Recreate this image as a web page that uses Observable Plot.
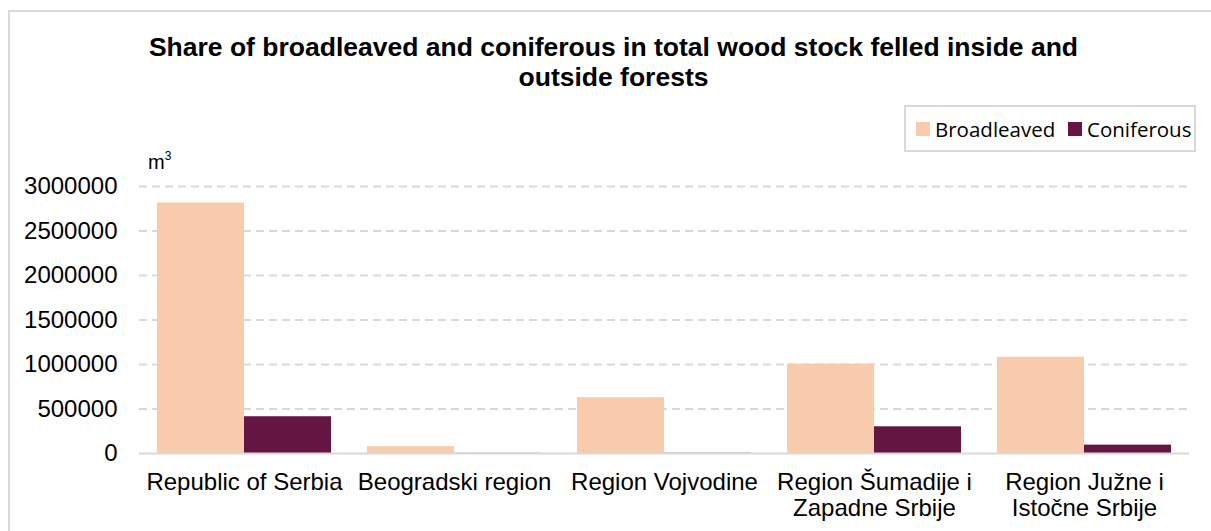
<!DOCTYPE html>
<html>
<head>
<meta charset="utf-8">
<script src="https://cdn.jsdelivr.net/npm/d3@7"></script>
<script src="https://cdn.jsdelivr.net/npm/@observablehq/plot@0.6"></script>
<style>
  html, body { margin: 0; padding: 0; background: #fff; }
  body { width: 1211px; height: 531px; overflow: hidden; position: relative; font-family: "Liberation Sans", Arial, sans-serif; }
  #frame { position: absolute; left: 8px; top: 10px; width: 1220px; height: 560px; border: 2px solid #d9d9d9; box-sizing: border-box; }
  #title { position: absolute; left: 8px; width: 1211px; top: 32px; text-align: center; font-weight: bold; font-size: 26.5px; line-height: 30px; color: #000; }
  #unit { position: absolute; left: 148px; top: 150px; font-size: 20px; color: #000; }
  #unit sup { font-size: 12px; position: relative; top: -1px; }
  #legend { position: absolute; left: 904px; top: 105px; width: 292px; height: 47px; border: 2px solid #d9d9d9; box-sizing: border-box; font-family: "Open Sans", "Noto Sans", sans-serif; font-size: 20.5px; color: #000; }
  .li { position: absolute; top: 8px; display: flex; align-items: center; }
  .sw { width: 14px; height: 14px; display: inline-block; margin-right: 5px; }
  #chart { position: absolute; left: 0; top: 0; }
</style>
</head>
<body>
<div id="frame"></div>
<div id="chart"></div>
<div id="title">Share of broadleaved and coniferous in total wood stock felled inside and<br>outside forests</div>
<div id="unit">m<sup>3</sup></div>
<div id="legend"></div>
<script>
const categories = ["Republic of Serbia", "Beogradski region", "Region Vojvodine", "Region Šumadije i Zapadne Srbije", "Region Južne i Istočne Srbije"];
const tickLabels = ["Republic of Serbia", "Beogradski region", "Region Vojvodine", "Region Šumadije i\nZapadne Srbije", "Region Južne i\nIstočne Srbije"];
const series = ["Broadleaved", "Coniferous"];
const colors = ["#F8CBAD", "#641541"];
const broadleaved = [2815000, 76000, 628000, 1005000, 1082000];
const coniferous = [413000, 2000, 3000, 300000, 94000];
const yTicks = [0, 500000, 1000000, 1500000, 2000000, 2500000, 3000000];

const rowsB = categories.map((c, i) => ({category: c, series: series[0], value: broadleaved[i]}));
const rowsC = categories.map((c, i) => ({category: c, series: series[1], value: coniferous[i]}));
const labelOf = new Map(categories.map((c, i) => [c, tickLabels[i]]));

const chart = Plot.plot({
  width: 1211,
  height: 531,
  marginLeft: 139,
  marginRight: 22,
  marginTop: 186,
  marginBottom: 78,
  style: {fontFamily: "'Liberation Sans', Arial, sans-serif", fontSize: "24px", color: "#000", background: "transparent"},
  x: {domain: categories, paddingInner: 0.1714, paddingOuter: 0.0857, label: null},
  y: {domain: [0, 3000000], label: null},
  color: {domain: series, range: colors},
  marks: [
    Plot.gridY(yTicks.filter(d => d > 0), {stroke: "#d9d9d9", strokeOpacity: 1, strokeWidth: 2, strokeDasharray: "8,5"}),
    Plot.barY(rowsB, {x: "category", y: "value", fill: "series", insetRight: 87}),
    Plot.barY(rowsC, {x: "category", y: "value", fill: "series", insetLeft: 87}),
    Plot.ruleY([0], {stroke: "#d9d9d9", strokeWidth: 2}),
    Plot.axisY(yTicks, {tickSize: 0, tickPadding: 22, tickFormat: d => String(d), fontSize: 24, fill: "#000", label: null}),
    Plot.axisX({tickSize: 0, tickPadding: 17, tickFormat: d => labelOf.get(d), fontSize: 24, lineHeight: 1.12, fill: "#000", label: null})
  ]
});
document.getElementById("chart").appendChild(chart);

const legend = document.getElementById("legend");
const lefts = [10, 162];
series.forEach((s, i) => {
  const item = document.createElement("div");
  item.className = "li";
  item.style.left = lefts[i] + "px";
  item.innerHTML = `<span class="sw" style="background:${colors[i]}"></span><span>${s}</span>`;
  legend.appendChild(item);
});
</script>
</body>
</html>
